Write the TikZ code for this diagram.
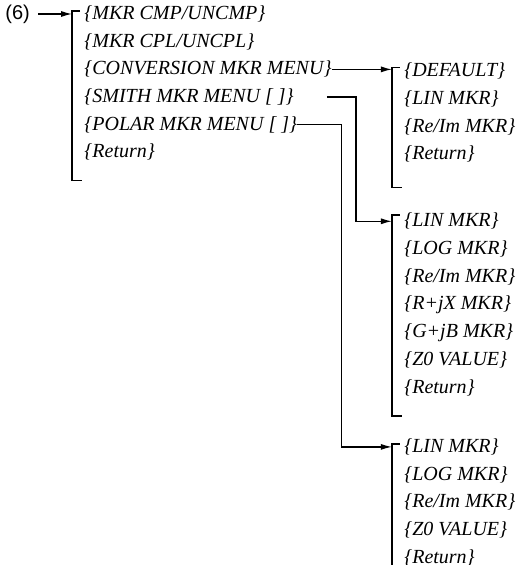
\documentclass[tikz,border=0pt]{standalone}
\usepackage{fontspec}
\setmainfont{Liberation Serif}
\newfontfamily\labelsans{Liberation Sans}
\usepackage{tikz}
\usetikzlibrary{
  arrows.meta,
  positioning,
  calc
}
\tikzset{
  menuitem/.style = {
    font=\itshape, inner sep=0pt,
    text height=8pt, text depth=2.5pt, anchor=west
  },
  nextrow/.style = {below right=2.95pt and 0pt of #1.south west},
  rootlabel/.style = {font=\labelsans, inner sep=0pt, anchor=west},
  arr/.style = {-{Latex[length=5.5pt, width=3pt]}, line width=0.6pt},
  brk/.style = {line width=0.8pt},
}

\begin{document}
\begin{tikzpicture}[x=0.5pt, y=0.5pt]
  \useasboundingbox (0,0) rectangle (517,-565);

  \node[rootlabel] (root) at (5,-14) {(6)};

  % main menu
  \node[menuitem] (m1) at (84,-14) {\{MKR CMP/UNCMP\}};
  \node[menuitem, nextrow=m1] (m2) {\{MKR CPL/UNCPL\}};
  \node[menuitem, nextrow=m2] (conv) {\{CONVERSION MKR MENU\}};
  \node[menuitem, nextrow=conv] (smith) {\{SMITH MKR MENU [ ]\}};
  \node[menuitem, nextrow=smith] (polar) {\{POLAR MKR MENU [ ]\}};
  \node[menuitem, nextrow=polar] (mret) {\{Return\}};

  % conversion menu
  \node[menuitem, right=36pt of conv, yshift=-1pt] (d1) {\{DEFAULT\}};
  \node[menuitem, nextrow=d1] (d2) {\{LIN MKR\}};
  \node[menuitem, nextrow=d2] (d3) {\{Re/Im MKR\}};
  \node[menuitem, nextrow=d3] (d4) {\{Return\}};

  % smith menu
  \node[menuitem, below right=22.5pt and 0pt of d4.south west] (s1) {\{LIN MKR\}};
  \node[menuitem, nextrow=s1] (s2) {\{LOG MKR\}};
  \node[menuitem, nextrow=s2] (s3) {\{Re/Im MKR\}};
  \node[menuitem, nextrow=s3] (s4) {\{R+jX MKR\}};
  \node[menuitem, nextrow=s4] (s5) {\{G+jB MKR\}};
  \node[menuitem, nextrow=s5] (s6) {\{Z0 VALUE\}};
  \node[menuitem, nextrow=s6] (s7) {\{Return\}};

  % polar menu
  \node[menuitem, below right=18.8pt and 0pt of s7.south west] (p1) {\{LIN MKR\}};
  \node[menuitem, nextrow=p1] (p2) {\{LOG MKR\}};
  \node[menuitem, nextrow=p2] (p3) {\{Re/Im MKR\}};
  \node[menuitem, nextrow=p3] (p4) {\{Z0 VALUE\}};
  \node[menuitem, nextrow=p4] (p5) {\{Return\}};

  % bracket ends
  \coordinate (mtop) at ([xshift=-6pt, yshift=1.5pt]m1.west);
  \coordinate (mbot) at ([xshift=-6pt, yshift=-14pt]mret.west);
  \coordinate (dtop) at ([xshift=-6pt, yshift=2pt]d1.west);
  \coordinate (dbot) at ([xshift=-6pt, yshift=-16.5pt]d4.west);
  \coordinate (smtop) at ([xshift=-6pt, yshift=3pt]s1.west);
  \coordinate (smbot) at ([xshift=-6pt, yshift=-14.3pt]s7.west);
  \coordinate (ptop) at ([xshift=-6pt, yshift=1.5pt]p1.west);
  \coordinate (pbot) at (ptop |- 0,-565);

  % Brackets
  \draw[brk] ([xshift=4pt]mtop) -- (mtop) -- (mbot) -- ([xshift=5pt]mbot);
  \draw[brk] ([xshift=4pt]dtop) -- (dtop) -- (dbot) -- ([xshift=5pt]dbot);
  \draw[brk] ([xshift=4pt]smtop) -- (smtop) -- (smbot) -- ([xshift=5pt]smbot);
  \draw[brk] ([xshift=4pt]ptop) -- (ptop) -- (pbot);

  % Arrows
  \draw[arr] ([xshift=4pt]root.east) -- (root.east -| mtop);
  \draw[arr] (conv.east) -- (conv.east -| dtop);
  \draw[arr] ($(smtop |- smith.east)+(-32.5pt,0)$)
    -- ($(smtop |- smith.east)+(-18pt,0)$) |- (s1.west -| smtop);
  \draw[arr] (polar.east) -- ($(ptop |- polar.east)+(-25pt,0)$)
    |- (p1.west -| ptop);

\end{tikzpicture}
\end{document}
